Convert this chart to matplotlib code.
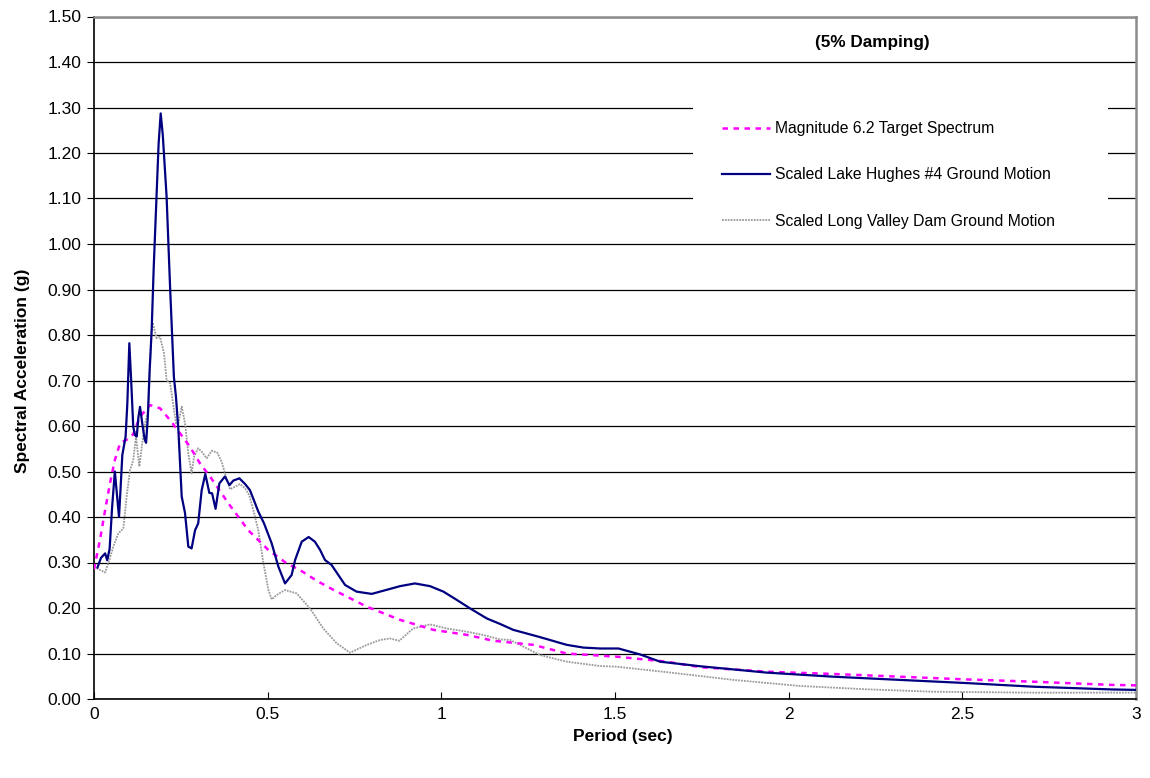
import matplotlib
matplotlib.use("Agg")
import matplotlib.pyplot as plt
from matplotlib.patches import Rectangle

plt.rcParams['font.family'] = ['Liberation Sans', 'DejaVu Sans']

# ---- data ----
target_x = [0.0, 0.017, 0.032, 0.046, 0.06, 0.075, 0.099, 0.113, 0.132, 0.161, 0.19, 0.219,
            0.2476, 0.276, 0.305, 0.334, 0.387, 0.444, 0.502, 0.555, 0.593, 0.641, 0.689,
            0.785, 0.881, 0.977, 1.073, 1.15, 1.265, 1.361, 1.505, 1.649, 1.745, 1.937,
            2.129, 2.32, 2.513, 2.705, 2.93, 3.0]
target_y = [0.285, 0.349, 0.415, 0.474, 0.525, 0.562, 0.572, 0.582, 0.620, 0.646, 0.639, 0.613,
            0.584, 0.5545, 0.518, 0.489, 0.430, 0.371, 0.3275, 0.298, 0.2835, 0.26, 0.240,
            0.203, 0.174, 0.152, 0.141, 0.128, 0.119, 0.100, 0.093, 0.082, 0.070, 0.060,
            0.055, 0.049, 0.043, 0.038, 0.031, 0.030]

lake_x = [0.01, 0.02, 0.032, 0.038, 0.045, 0.052, 0.060, 0.066, 0.072, 0.077, 0.0815, 0.091,
          0.096, 0.1017, 0.107, 0.113, 0.118, 0.123, 0.128, 0.1325, 0.140, 0.146, 0.150,
          0.155, 0.160, 0.166, 0.172, 0.180, 0.186, 0.192, 0.198, 0.209, 0.219, 0.230,
          0.236, 0.243, 0.2525, 0.262, 0.2715, 0.281, 0.291, 0.300, 0.310, 0.3205, 0.332,
          0.340, 0.350, 0.361, 0.377, 0.390, 0.401, 0.4185, 0.435, 0.449, 0.473, 0.4895,
          0.5116, 0.5308, 0.550, 0.569, 0.579, 0.598, 0.618, 0.636, 0.651, 0.665, 0.684,
          0.723, 0.756, 0.7995, 0.843, 0.881, 0.924, 0.9675, 1.006, 1.044, 1.083, 1.131,
          1.169, 1.207, 1.284, 1.361, 1.409, 1.457, 1.51, 1.572, 1.63, 1.745, 1.937, 2.129,
          2.32, 2.513, 2.705, 2.93, 3.0]
lake_y = [0.289, 0.31, 0.32, 0.305, 0.33, 0.42, 0.50, 0.45, 0.40, 0.47, 0.536, 0.577,
          0.65, 0.782, 0.70, 0.598, 0.58, 0.577, 0.62, 0.642, 0.60, 0.57, 0.563,
          0.62, 0.72, 0.81, 0.95, 1.104, 1.22, 1.287, 1.24, 1.104, 0.906, 0.708,
          0.664, 0.591, 0.445, 0.409, 0.335, 0.331, 0.371, 0.386, 0.459, 0.4945, 0.453,
          0.452, 0.418, 0.474, 0.489, 0.470, 0.480, 0.485, 0.4725, 0.459, 0.412, 0.386,
          0.342, 0.291, 0.254, 0.2725, 0.3055, 0.3457, 0.356, 0.3457, 0.3275, 0.3055, 0.2945,
          0.2505, 0.236, 0.231, 0.240, 0.248, 0.254, 0.248, 0.236, 0.218, 0.199, 0.177,
          0.165, 0.152, 0.136, 0.119, 0.113, 0.111, 0.111, 0.098, 0.082, 0.072, 0.058, 0.049,
          0.042, 0.035, 0.027, 0.021, 0.020]

dam_x = [0.0, 0.017, 0.032, 0.041, 0.0556, 0.070, 0.0845, 0.094, 0.1037, 0.113, 0.121, 0.1305,
         0.140, 0.147, 0.1565, 0.161, 0.166, 0.169, 0.180, 0.19, 0.2016, 0.209, 0.219, 0.236,
         0.243, 0.2525, 0.262, 0.2715, 0.281, 0.288, 0.300, 0.310, 0.3245, 0.339, 0.355,
         0.3675, 0.380, 0.3916, 0.406, 0.420, 0.435, 0.447, 0.4587, 0.473, 0.4875, 0.502,
         0.5115, 0.526, 0.550, 0.5836, 0.622, 0.660, 0.699, 0.737, 0.785, 0.8235, 0.852,
         0.879, 0.919, 0.9675, 1.0155, 1.073, 1.121, 1.169, 1.198, 1.284, 1.361, 1.457,
         1.505, 1.649, 1.745, 1.841, 2.033, 2.225, 2.417, 2.705, 3.0]
dam_y = [0.29, 0.284, 0.278, 0.298, 0.335, 0.364, 0.375, 0.445, 0.503, 0.525, 0.577, 0.511,
         0.569, 0.606, 0.635, 0.723, 0.811, 0.827, 0.793, 0.796, 0.76, 0.701, 0.694, 0.606,
         0.606, 0.6425, 0.606, 0.540, 0.496, 0.5325, 0.551, 0.5436, 0.529, 0.5457, 0.5414,
         0.5216, 0.4886, 0.4608, 0.4667, 0.4725, 0.463, 0.448, 0.415, 0.371, 0.30, 0.24,
         0.219, 0.2286, 0.2396, 0.232, 0.199, 0.155, 0.1224, 0.1018, 0.1187, 0.1297, 0.133,
         0.128, 0.155, 0.164, 0.155, 0.148, 0.1407, 0.131, 0.1297, 0.0967, 0.082, 0.0725,
         0.071, 0.059, 0.0505, 0.042, 0.0286, 0.0213, 0.016, 0.0139, 0.014]

series_labels = ["Magnitude 6.2 Target Spectrum",
                 "Scaled Lake Hughes #4 Ground Motion",
                 "Scaled Long Valley Dam Ground Motion"]
x_ticks = [0, 0.5, 1, 1.5, 2, 2.5, 3]
x_tick_labels = ["0", "0.5", "1", "1.5", "2", "2.5", "3"]
y_ticks = [i / 10 for i in range(16)]
y_tick_labels = ["%.2f" % v for v in y_ticks]

# ---- figure ----
fig = plt.figure(figsize=(11.5, 7.78), dpi=100)
ax = fig.add_axes([94 / 1150, 1 - 699 / 778, 1042 / 1150, 682.5 / 778])

ax.set_xlim(0, 3)
ax.set_ylim(0, 1.5)
ax.set_xticks(x_ticks)
ax.set_xticklabels(x_tick_labels, fontsize=12.5)
ax.set_yticks(y_ticks)
ax.set_yticklabels(y_tick_labels, fontsize=12.5)
ax.tick_params(axis='x', direction='in', length=5, pad=6, color='black')
ax.tick_params(axis='y', direction='out', length=5, pad=4, color='black')

ax.set_axisbelow(True)
ax.yaxis.grid(True, color='black', linewidth=0.9)
ax.xaxis.grid(False)

for s in ['left', 'bottom']:
    ax.spines[s].set_color('black')
    ax.spines[s].set_linewidth(1.2)
for s in ['top', 'right']:
    ax.spines[s].set_color('#8c8c8c')
    ax.spines[s].set_linewidth(1.8)

# white area behind legend (covers grid lines)
ax.add_patch(Rectangle((1.724, 1.02), 1.194, 0.34, facecolor='white', edgecolor='none',
                       zorder=1))

l1, = ax.plot(target_x, target_y, color='#ff00ff', linewidth=1.8,
              linestyle=(0, (2.2, 2.2)), zorder=3, label=series_labels[0])
l2, = ax.plot(lake_x, lake_y, color='#000080', linewidth=1.6, zorder=4,
              label=series_labels[1])
l3, = ax.plot(dam_x, dam_y, color='#9a9a9a', linewidth=1.3, linestyle=(0, (1, 0.6)),
              zorder=2, label=series_labels[2])

leg = ax.legend(handles=[l1, l2, l3], loc='upper left',
                bbox_to_anchor=((722 - 94) / 1042, (699 - 121) / 682.5),
                frameon=False, fontsize=11.3, handlelength=3.05, handletextpad=0.32,
                labelspacing=2.0, borderpad=0, borderaxespad=0)

ax.text(2.24, 1.442, "(5% Damping)", fontsize=12.3, fontweight='bold',
        ha='center', va='center')

ax.set_xlabel("Period (sec)", fontsize=12.5, fontweight='bold', va='center')
ax.xaxis.set_label_coords((623 - 94) / 1042, -(736 - 699) / 682.5)
ax.set_ylabel("Spectral Acceleration (g)", fontsize=12.5, fontweight='bold', va='center')
ax.yaxis.set_label_coords(-(94 - 23) / 1042, (699 - 371) / 682.5)

fig.savefig("out.png", dpi=100)
